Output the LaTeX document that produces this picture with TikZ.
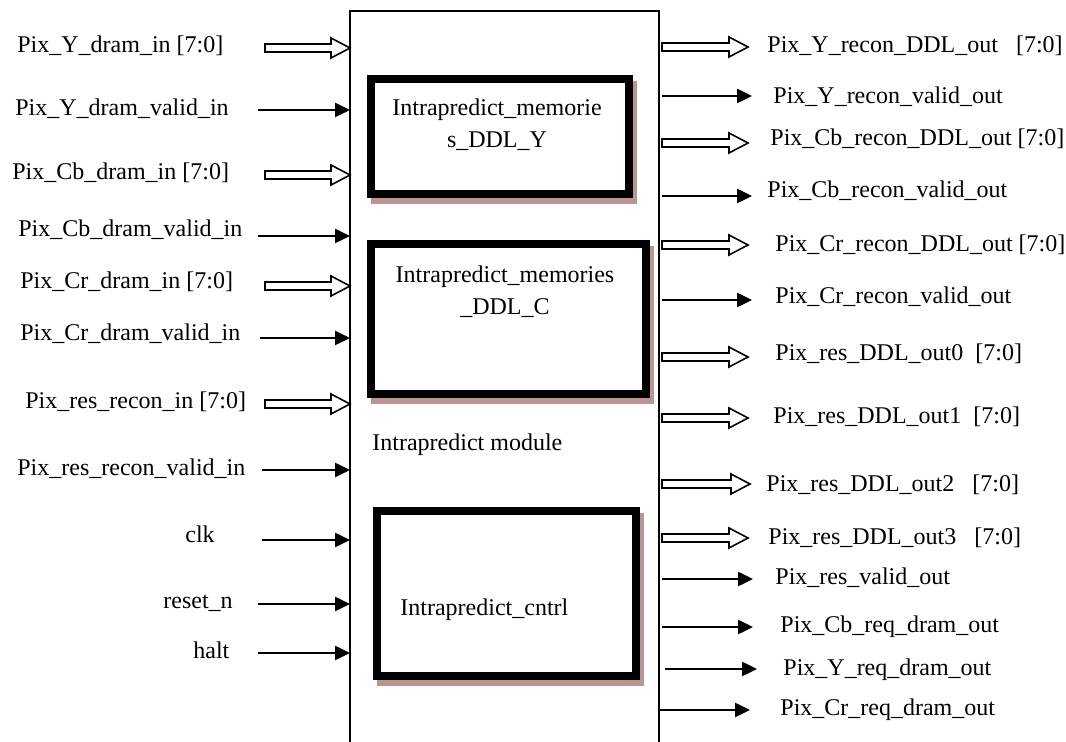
\documentclass[tikz,border=0pt]{standalone}
\usepackage{fontspec}
\setmainfont{Liberation Serif}
\usepackage{tikz}
\usetikzlibrary{arrows.meta,calc}
\definecolor{boxShadow}{RGB}{188,148,148}
\tikzset{
  sig/.style={font=\fontsize{12}{16}\selectfont, inner sep=0pt,
              text height=0.7em, text depth=0.2em},
  boxlbl/.style={font=\fontsize{12}{16}\selectfont, inner sep=0pt, align=center},
  wire/.style={line width=1.25pt, -{Triangle[length=7.5pt,width=7pt]}},
  busline/.style={line width=0.8pt, line join=miter},
  subbox/.style={draw, line width=4pt, fill=white, inner sep=0pt,
                 preaction={draw=boxShadow, fill=boxShadow, line width=4pt,
                            transform canvas={shift={(2pt,-3.2pt)}}}}
}
% hollow bus arrow from #1 to #2 (horizontal)
\newcommand{\busarrow}[2]{%
  \draw[busline] let \p1=(#1), \p2=(#2) in
    (\x1,\y1+2pt) -- (\x2-9.5pt,\y1+2pt) -- (\x2-9.5pt,\y1+5pt) -- (\x2,\y1)
    -- (\x2-9.5pt,\y1-5pt) -- (\x2-9.5pt,\y1-2pt) -- (\x1,\y1-2pt) -- cycle;}

\begin{document}
\begin{tikzpicture}[x=0.5pt,y=-0.5pt]
  \useasboundingbox (0,0) rectangle (1066,742);
  \clip (0,0) rectangle (1066,742);
  % Module outline (runs off the bottom)
  \coordinate (modL) at (350,11);
  \coordinate (modR) at (659,11);
  \draw[line width=0.8pt] (350,760) -- (modL) -- (modR) -- (659,760);
  % Sub-blocks
  \node[subbox, minimum width=129pt, minimum height=57.5pt] (memY) at (500,136.5) {};
  \node[subbox, minimum width=137.5pt, minimum height=75pt] (memC) at (508.5,319) {};
  \node[subbox, minimum width=129.5pt, minimum height=82.5pt] (cntrl) at (506.5,593.5) {};
  \node[boxlbl] (memYLbl) at (497,125) {Intrapredict\_memorie\\s\_DDL\_Y};
  \node[boxlbl] (memCLbl) at (505,292) {Intrapredict\_memories\\\_DDL\_C};
  \node[sig, anchor=west] (cntrlLbl) at (400,611) {Intrapredict\_cntrl};
  \node[sig, anchor=west] (modLbl) at (372,446) {Intrapredict module};

  % Inputs
  \node[sig, anchor=west] (yDramIn) at (17,48) {Pix\_Y\_dram\_in [7:0]};
  \coordinate (yDramInS) at (265,48);
  \busarrow{yDramInS}{yDramInS -| modL}
  \node[sig, anchor=west] (yDramValid) at (15,111) {Pix\_Y\_dram\_valid\_in};
  \coordinate (yDramValidS) at (258,110);
  \draw[wire] (yDramValidS) -- (yDramValidS -| modL);
  \node[sig, anchor=west] (cbDramIn) at (12,175) {Pix\_Cb\_dram\_in [7:0]};
  \coordinate (cbDramInS) at (265,175);
  \busarrow{cbDramInS}{cbDramInS -| modL}
  \node[sig, anchor=west] (cbDramValid) at (18,232) {Pix\_Cb\_dram\_valid\_in};
  \coordinate (cbDramValidS) at (258,236);
  \draw[wire] (cbDramValidS) -- (cbDramValidS -| modL);
  \node[sig, anchor=west] (crDramIn) at (20,284) {Pix\_Cr\_dram\_in [7:0]};
  \coordinate (crDramInS) at (265,286);
  \busarrow{crDramInS}{crDramInS -| modL}
  \node[sig, anchor=west] (crDramValid) at (20,336) {Pix\_Cr\_dram\_valid\_in};
  \coordinate (crDramValidS) at (260,338);
  \draw[wire] (crDramValidS) -- (crDramValidS -| modL);
  \node[sig, anchor=west] (resReconIn) at (25,404) {Pix\_res\_recon\_in [7:0]};
  \coordinate (resReconInS) at (265,404);
  \busarrow{resReconInS}{resReconInS -| modL}
  \node[sig, anchor=west] (resReconValid) at (17,471) {Pix\_res\_recon\_valid\_in};
  \coordinate (resReconValidS) at (262,470);
  \draw[wire] (resReconValidS) -- (resReconValidS -| modL);
  \node[sig, anchor=west] (clk) at (185,538) {clk};
  \coordinate (clkS) at (262,540);
  \draw[wire] (clkS) -- (clkS -| modL);
  \node[sig, anchor=west] (resetN) at (163,604) {reset\_n};
  \coordinate (resetNS) at (258,604);
  \draw[wire] (resetNS) -- (resetNS -| modL);
  \node[sig, anchor=west] (halt) at (193,654) {halt};
  \coordinate (haltS) at (258,653);
  \draw[wire] (haltS) -- (haltS -| modL);

  % Outputs
  \node[sig, anchor=west] (yReconDDL) at (767,48) {Pix\_Y\_recon\_DDL\_out\ \ \ [7:0]};
  \coordinate (yReconDDLS) at (662,47);
  \coordinate (yReconDDLE) at (748,47);
  \busarrow{yReconDDLS}{yReconDDLE}
  \node[sig, anchor=west] (yReconValid) at (773,99) {Pix\_Y\_recon\_valid\_out};
  \coordinate (yReconValidS) at (662,96);
  \coordinate (yReconValidE) at (752,96);
  \draw[wire] (yReconValidS) -- (yReconValidE);
  \node[sig, anchor=west] (cbReconDDL) at (770,141) {Pix\_Cb\_recon\_DDL\_out [7:0]};
  \coordinate (cbReconDDLS) at (662,143);
  \coordinate (cbReconDDLE) at (748,143);
  \busarrow{cbReconDDLS}{cbReconDDLE}
  \node[sig, anchor=west] (cbReconValid) at (767,193) {Pix\_Cb\_recon\_valid\_out};
  \coordinate (cbReconValidS) at (662,196);
  \coordinate (cbReconValidE) at (752,196);
  \draw[wire] (cbReconValidS) -- (cbReconValidE);
  \node[sig, anchor=west] (crReconDDL) at (775,247) {Pix\_Cr\_recon\_DDL\_out [7:0]};
  \coordinate (crReconDDLS) at (662,245);
  \coordinate (crReconDDLE) at (748,245);
  \busarrow{crReconDDLS}{crReconDDLE}
  \node[sig, anchor=west] (crReconValid) at (775,299) {Pix\_Cr\_recon\_valid\_out};
  \coordinate (crReconValidS) at (662,300);
  \coordinate (crReconValidE) at (752,300);
  \draw[wire] (crReconValidS) -- (crReconValidE);
  \node[sig, anchor=west] (resOut0) at (775,356) {Pix\_res\_DDL\_out0\ \ [7:0]};
  \coordinate (resOut0S) at (662,357);
  \coordinate (resOut0E) at (748,357);
  \busarrow{resOut0S}{resOut0E}
  \node[sig, anchor=west] (resOut1) at (773,419) {Pix\_res\_DDL\_out1\ \ [7:0]};
  \coordinate (resOut1S) at (662,418);
  \coordinate (resOut1E) at (748,418);
  \busarrow{resOut1S}{resOut1E}
  \node[sig, anchor=west] (resOut2) at (766,487) {Pix\_res\_DDL\_out2\ \ \ [7:0]};
  \coordinate (resOut2S) at (662,484);
  \coordinate (resOut2E) at (750,484);
  \busarrow{resOut2S}{resOut2E}
  \node[sig, anchor=west] (resOut3) at (768,540) {Pix\_res\_DDL\_out3\ \ \ [7:0]};
  \coordinate (resOut3S) at (662,538);
  \coordinate (resOut3E) at (748,538);
  \busarrow{resOut3S}{resOut3E}
  \node[sig, anchor=west] (resValid) at (775,580) {Pix\_res\_valid\_out};
  \coordinate (resValidS) at (662,579);
  \coordinate (resValidE) at (753,579);
  \draw[wire] (resValidS) -- (resValidE);
  \node[sig, anchor=west] (cbReq) at (780,628) {Pix\_Cb\_req\_dram\_out};
  \coordinate (cbReqS) at (662,627);
  \coordinate (cbReqE) at (753,627);
  \draw[wire] (cbReqS) -- (cbReqE);
  \node[sig, anchor=west] (yReq) at (783,671) {Pix\_Y\_req\_dram\_out};
  \coordinate (yReqS) at (665,669);
  \coordinate (yReqE) at (757,669);
  \draw[wire] (yReqS) -- (yReqE);
  \node[sig, anchor=west] (crReq) at (780,711) {Pix\_Cr\_req\_dram\_out};
  \coordinate (crReqS) at (658,710);
  \coordinate (crReqE) at (750,710);
  \draw[wire] (crReqS) -- (crReqE);
\end{tikzpicture}
\end{document}
